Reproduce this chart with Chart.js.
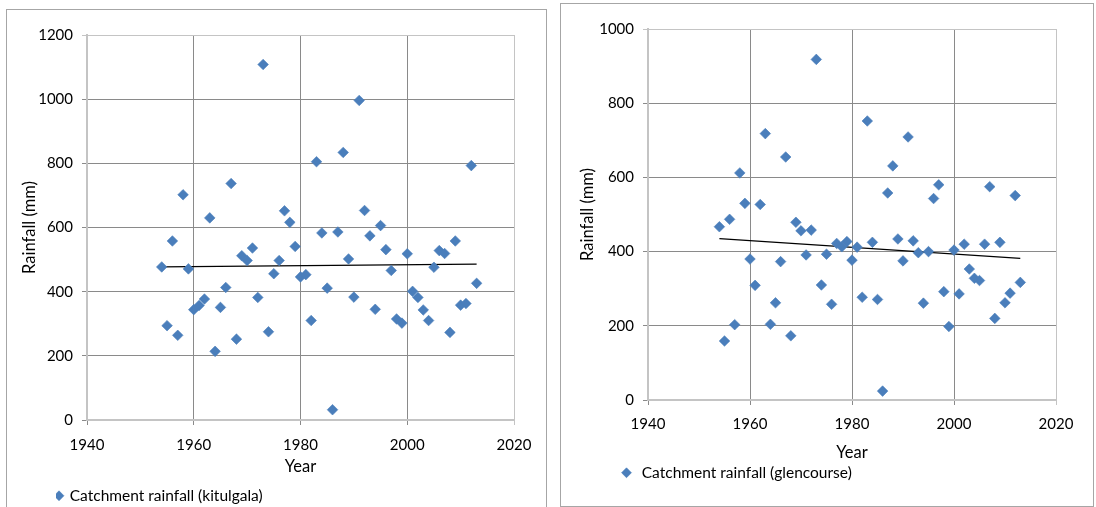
<!DOCTYPE html>
<html><head><meta charset="utf-8">
<script src="https://cdn.jsdelivr.net/npm/chart.js@4.4.1/dist/chart.umd.min.js"></script>
<style>
html,body{margin:0;padding:0;background:#fff;width:1096px;height:507px;overflow:hidden;}
.box{position:absolute;border:1px solid #a6a6a6;box-sizing:border-box;}
canvas{position:absolute;top:0;}
</style></head><body>
<div class="box" style="left:6px;top:9px;width:541px;height:520px"></div>
<div class="box" style="left:560px;top:3px;width:534px;height:504px"></div>
<canvas id="c1" width="553" height="507" style="left:0"></canvas>
<canvas id="c2" width="543" height="507" style="left:553px"></canvas>
<script>
const years = [1954,1955,1956,1957,1958,1959,1960,1961,1962,1963,1964,1965,1966,1967,1968,1969,1970,1971,1972,1973,1974,1975,1976,1977,1978,1979,1980,1981,1982,1983,1984,1985,1986,1987,1988,1989,1990,1991,1992,1993,1994,1995,1996,1997,1998,1999,2000,2001,2002,2003,2004,2005,2006,2007,2008,2009,2010,2011,2012,2013];
const kitulgala = [477,294,558,264,702,471,344,357,377,630,214,351,413,737,252,512,497,536,382,1108,275,456,497,652,616,541,446,453,310,805,583,411,32,586,834,502,383,996,653,574,345,606,531,466,315,302,518,401,382,343,310,476,528,519,273,558,358,363,793,426];
const glencourse = [467,159,487,203,612,530,380,309,527,718,204,262,373,655,173,479,456,391,458,918,310,393,258,422,413,427,377,412,277,752,425,271,24,558,631,434,375,709,429,397,261,400,543,580,292,198,404,286,420,353,328,322,420,575,220,425,262,288,551,317];
const xTickLabels = [1940,1960,1980,2000,2020];
const yTicksLeft = [0,200,400,600,800,1000,1200];
const yTicksRight = [0,200,400,600,800,1000];
const labelLeft = 'Catchment rainfall (kitulgala)';
const labelRight = 'Catchment rainfall (glencourse)';
const xTitle = 'Year';
const yTitle = 'Rainfall (mm)';

const BLUE = '#4a7ebb';
const GRID = '#8a8a8a';
const EDGE = '#c4c4c4';
const FONT = 'Lato';

function trend(xs, ys) {
  const n = xs.length;
  let sx=0, sy=0, sxx=0, sxy=0;
  for (let i=0;i<n;i++){ sx+=xs[i]; sy+=ys[i]; sxx+=xs[i]*xs[i]; sxy+=xs[i]*ys[i]; }
  const b = (n*sxy - sx*sy)/(n*sxx - sx*sx);
  const a = (sy - b*sx)/n;
  const x0 = xs[0], x1 = xs[n-1];
  return [{x:x0, y:a+b*x0}, {x:x1, y:a+b*x1}];
}

function makeChart(id, values, label, yTicks, L) {
  const xMin = xTickLabels[0], xMax = xTickLabels[xTickLabels.length-1];
  const yMin = yTicks[0], yMax = yTicks[yTicks.length-1];
  const font = {family: FONT, size: 15};
  const tfont = {family: FONT, size: 16.5};
  return new Chart(document.getElementById(id), {
    type: 'scatter',
    data: { datasets: [
      { label: label, data: years.map((y,i)=>({x:y, y:values[i]})), pointStyle:'rectRot',
        pointRadius:5.3, pointHoverRadius:5.3, backgroundColor:BLUE, borderColor:BLUE, borderWidth:0.6, order:1 },
      { label: 'trend', data: trend(years, values), showLine:true, borderColor:'#000', borderWidth:1.3,
        pointRadius:0, pointHoverRadius:0, fill:false, order:2 }
    ]},
    options: {
      responsive:false, animation:false, devicePixelRatio:1,
      layout:{padding:{left:0, top:L.top, right:L.right, bottom:0}},
      plugins:{
        legend:{ position:'chartArea', align:'start',
          labels:{ usePointStyle:true, boxWidth:L.boxW, boxHeight:7, padding:0, color:'#000',
            font:{family:FONT, size:15.5}, filter: item => item.datasetIndex === 0 } },
        tooltip:{enabled:false}
      },
      scales:{
        x:{ type:'linear', min:xMin, max:xMax,
          ticks:{ stepSize: xTickLabels[1]-xTickLabels[0], padding:L.xtp, color:'#000', font, callback:v=>String(v) },
          grid:{ color: c => (c.tick && c.tick.value === xMax) ? EDGE : GRID, tickLength:5, lineWidth:1 },
          border:{ color:EDGE, width:2 },
          title:{ display:true, text:xTitle, color:'#000', font:tfont, padding:{top:0, bottom:L.xTitlePad} },
          afterFit: s => { s.height = L.xH; } },
        y:{ type:'linear', min:yMin, max:yMax,
          ticks:{ stepSize: yTicks[1]-yTicks[0], padding:L.ytp, color:'#000', font, callback:v=>String(v) },
          grid:{ color: c => (c.tick && c.tick.value === yMax) ? EDGE : GRID, tickLength:5, lineWidth:1 },
          border:{ color:EDGE, width:2 },
          title:{ display:true, text:yTitle, color:'#000', font:tfont, padding:{top:L.yTitlePad, bottom:0} },
          afterFit: s => { s.width = L.yW; } }
      }
    },
    plugins:[{ id:'legendPos', afterLayout(chart){
      const lg = chart.legend; if (!lg) return;
      const w = lg.width, h = lg.height;
      lg.left = L.legX; lg.top = L.legY; lg.right = L.legX + w; lg.bottom = L.legY + h;
    }}]
  });
}

makeChart('c1', kitulgala, labelLeft, yTicksLeft,
  {top:35, right:39, yW:87, xH:87, xtp:11, ytp:9, xTitlePad:30, yTitlePad:20, boxW:6, legX:56, legY:488});
makeChart('c2', glencourse, labelRight, yTicksRight,
  {top:29, right:40, yW:95, xH:107, xtp:10, ytp:9, xTitlePad:44, yTitlePad:25, boxW:15, legX:66, legY:465});
</script>
</body></html>
